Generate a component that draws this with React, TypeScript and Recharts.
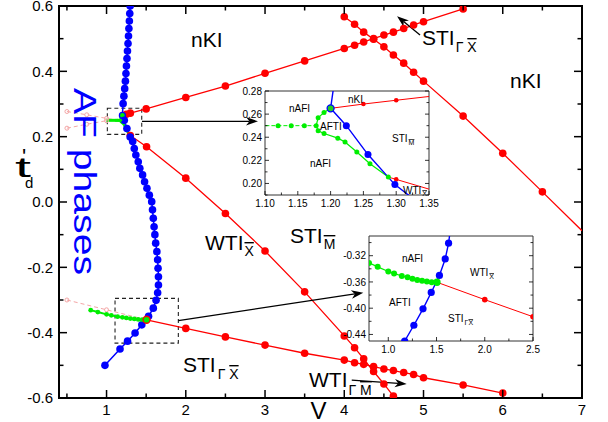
import React from 'react';
import { LineChart, Line, XAxis, YAxis, ReferenceArea, ReferenceLine } from 'recharts';

type P = { x: number; y: number; nodot?: boolean; junction?: boolean };

const FONT = '"Liberation Sans", Arial, Helvetica, sans-serif';

// ---- data (V, t'_d) ----
const blueCurve: P[] = [
  { x: 1.298, y: 0.6 }, { x: 1.293, y: 0.577 }, { x: 1.288, y: 0.554 }, { x: 1.282, y: 0.531 },
  { x: 1.277, y: 0.508 }, { x: 1.271, y: 0.485 }, { x: 1.264, y: 0.462 }, { x: 1.258, y: 0.439 },
  { x: 1.251, y: 0.416 }, { x: 1.245, y: 0.393 }, { x: 1.238, y: 0.37 }, { x: 1.229, y: 0.347 },
  { x: 1.219, y: 0.324 }, { x: 1.209, y: 0.301 },
  { x: 1.2, y: 0.265, junction: true },
  { x: 1.224, y: 0.25 }, { x: 1.257, y: 0.225 }, { x: 1.298, y: 0.199 },
  { x: 1.33, y: 0.185 }, { x: 1.35, y: 0.164 }, { x: 1.37, y: 0.144 }, { x: 1.4, y: 0.123 },
  { x: 1.42, y: 0.103 }, { x: 1.455, y: 0.083 }, { x: 1.48, y: 0.062 }, { x: 1.51, y: 0.042 },
  { x: 1.54, y: 0.021 }, { x: 1.57, y: 0.001 }, { x: 1.58, y: -0.024 }, { x: 1.59, y: -0.05 },
  { x: 1.6, y: -0.076 }, { x: 1.61, y: -0.1 }, { x: 1.62, y: -0.126 }, { x: 1.635, y: -0.152 },
  { x: 1.645, y: -0.177 }, { x: 1.65, y: -0.203 }, { x: 1.655, y: -0.229 }, { x: 1.655, y: -0.254 },
  { x: 1.645, y: -0.278 }, { x: 1.625, y: -0.301 }, { x: 1.59, y: -0.325 }, { x: 1.53, y: -0.35 },
  { x: 1.445, y: -0.376 }, { x: 1.36, y: -0.401 }, { x: 1.265, y: -0.426 }, { x: 1.17, y: -0.45 },
  { x: 0.98, y: -0.5 },
];

const redUpper: P[] = [
  { x: 1.2, y: 0.265, nodot: true }, { x: 1.25, y: 0.2687 }, { x: 1.3, y: 0.272 }, { x: 1.5, y: 0.285 },
  { x: 2.0, y: 0.32 }, { x: 2.5, y: 0.355 }, { x: 3.0, y: 0.394 }, { x: 3.5, y: 0.432 },
  { x: 4.0, y: 0.47 }, { x: 4.13, y: 0.48 }, { x: 4.245, y: 0.49 }, { x: 4.37, y: 0.5 },
  { x: 4.5, y: 0.511 }, { x: 4.62, y: 0.52 }, { x: 4.75, y: 0.531 }, { x: 4.875, y: 0.542 },
  { x: 5.0, y: 0.552 }, { x: 5.5, y: 0.591 },
];

const redCross: P[] = [
  { x: 4.0, y: 0.567 }, { x: 4.13, y: 0.544 }, { x: 4.245, y: 0.52 }, { x: 4.37, y: 0.498 },
  { x: 4.5, y: 0.475 }, { x: 4.62, y: 0.45 }, { x: 4.75, y: 0.425 }, { x: 4.875, y: 0.397 },
  { x: 5.0, y: 0.37 }, { x: 5.5, y: 0.263 }, { x: 6.0, y: 0.149 }, { x: 6.5, y: 0.031 },
  { x: 7.0, y: -0.088, nodot: true },
];

const redMiddle: P[] = [
  { x: 1.288, y: 0.2055, nodot: true }, { x: 1.3, y: 0.2035 }, { x: 1.505, y: 0.169 },
  { x: 2.0, y: 0.073 }, { x: 2.5, y: -0.035 }, { x: 3.0, y: -0.15 }, { x: 3.5, y: -0.275 },
  { x: 4.0, y: -0.41 }, { x: 4.13, y: -0.446 }, { x: 4.245, y: -0.48 }, { x: 4.37, y: -0.519 },
  { x: 4.5, y: -0.557 }, { x: 4.62, y: -0.594 },
];

const redLower: P[] = [
  { x: 1.505, y: -0.3605, junction: true }, { x: 2.0, y: -0.387 }, { x: 2.5, y: -0.413 },
  { x: 3.0, y: -0.438 }, { x: 3.5, y: -0.463 }, { x: 4.0, y: -0.484 }, { x: 4.13, y: -0.492 },
  { x: 4.245, y: -0.497 }, { x: 4.37, y: -0.504 }, { x: 4.5, y: -0.511 }, { x: 4.62, y: -0.516 },
  { x: 4.75, y: -0.522 }, { x: 4.875, y: -0.528 }, { x: 5.0, y: -0.538 }, { x: 5.5, y: -0.56 },
  { x: 6.0, y: -0.585 },
];

const greenFlat: P[] = [
  { x: 1.0, y: 0.25, nodot: true }, { x: 1.12, y: 0.25 }, { x: 1.14, y: 0.25 }, { x: 1.16, y: 0.25 },
  { x: 1.178, y: 0.25 },
];
const greenUp: P[] = [
  { x: 1.178, y: 0.25, nodot: true }, { x: 1.181, y: 0.2568 }, { x: 1.19, y: 0.2615 },
  { x: 1.2, y: 0.265, nodot: true },
];
const greenDown: P[] = [
  { x: 1.178, y: 0.25, nodot: true }, { x: 1.181, y: 0.2455 }, { x: 1.19, y: 0.2432 },
  { x: 1.211, y: 0.2392 }, { x: 1.222, y: 0.2359 }, { x: 1.24, y: 0.2272 }, { x: 1.26, y: 0.217 },
  { x: 1.288, y: 0.2055 },
];
const greenLow: P[] = [
  { x: 0.8, y: -0.331 }, { x: 0.89, y: -0.337 }, { x: 1.0, y: -0.344 }, { x: 1.06, y: -0.347 },
  { x: 1.14, y: -0.351 }, { x: 1.2, y: -0.353 }, { x: 1.25, y: -0.355 }, { x: 1.3, y: -0.357 },
  { x: 1.35, y: -0.358 }, { x: 1.4, y: -0.3595 }, { x: 1.45, y: -0.3603 }, { x: 1.505, y: -0.3605, nodot: true },
];

const pinkA: P[] = [{ x: 0.5, y: 0.277 }, { x: 0.75, y: 0.267 }, { x: 1.0, y: 0.256 }, { x: 1.1, y: 0.252, nodot: true }];
const pinkB: P[] = [{ x: 0.5, y: 0.226 }, { x: 0.75, y: 0.238 }, { x: 1.0, y: 0.249 }];
const pinkC: P[] = [{ x: 0.5, y: -0.3 }, { x: 1.0, y: -0.33 }, { x: 1.505, y: -0.3605, nodot: true }];

// ---- ticks ----
const mainXTicks = [0.5, 1, 1.5, 2, 2.5, 3, 3.5, 4, 4.5, 5, 5.5, 6, 6.5, 7];
const mainXLabels = [1, 2, 3, 4, 5, 6, 7];
const mainYTicks = [-0.6, -0.5, -0.4, -0.3, -0.2, -0.1, 0, 0.1, 0.2, 0.3, 0.4, 0.5, 0.6];
const mainYLabels = [-0.6, -0.4, -0.2, 0, 0.2, 0.4, 0.6];
const in1XTicks = [1.1, 1.125, 1.15, 1.175, 1.2, 1.225, 1.25, 1.275, 1.3, 1.325, 1.35];
const in1XLabels = [1.1, 1.15, 1.2, 1.25, 1.3, 1.35];
const in1YTicks = [0.19, 0.2, 0.21, 0.22, 0.23, 0.24, 0.25, 0.26, 0.27, 0.28];
const in1YLabels = [0.2, 0.22, 0.24, 0.26, 0.28];
const in2XTicks = [1.0, 1.25, 1.5, 1.75, 2.0, 2.25, 2.5];
const in2XLabels = [1.0, 1.5, 2.0, 2.5];
const in2YTicks = [-0.44, -0.42, -0.4, -0.38, -0.36, -0.34, -0.32, -0.3];
const in2YLabels = [-0.44, -0.4, -0.36, -0.32];

const RED = '#ff0000';
const BLUE = '#0000ff';
const GREEN = '#00ee00';
const PINK = '#f4a6a6';

const isIn = (v: number, arr: number[]) => arr.some((a) => Math.abs(a - v) < 1e-9);

function makeXTick(o: { labels: number[]; top: number; bottom: number; major: number; minor: number; fs: number; digits: number; dy: number; sw: number; mirror: boolean }) {
  return (props: any) => {
    const { x, payload, index } = props;
    const v = payload.value as number;
    const maj = isIn(v, o.labels);
    const len = maj ? o.major : o.minor;
    return (
      <g key={`xt${index}`}>
        <line x1={x} x2={x} y1={o.bottom} y2={o.bottom - len} stroke="#000" strokeWidth={o.sw} />
        {o.mirror && <line x1={x} x2={x} y1={o.top} y2={o.top + len} stroke="#000" strokeWidth={o.sw} />}
        {maj && (
          <text x={x} y={o.bottom + o.dy} textAnchor="middle" fontSize={o.fs} fontFamily={FONT} fill="#000">
            {v.toFixed(o.digits)}
          </text>
        )}
      </g>
    );
  };
}

function makeYTick(o: { labels: number[]; left: number; right: number; major: number; minor: number; fs: number; digits: number; dx: number; sw: number }) {
  return (props: any) => {
    const { y, payload, index } = props;
    const v = payload.value as number;
    const maj = isIn(v, o.labels);
    const len = maj ? o.major : o.minor;
    return (
      <g key={`yt${index}`}>
        <line x1={o.left} x2={o.left + len} y1={y} y2={y} stroke="#000" strokeWidth={o.sw} />
        <line x1={o.right} x2={o.right - len} y1={y} y2={y} stroke="#000" strokeWidth={o.sw} />
        {maj && (
          <text x={o.left - o.dx} y={y + o.fs * 0.36} textAnchor="end" fontSize={o.fs} fontFamily={FONT} fill="#000">
            {v.toFixed(o.digits)}
          </text>
        )}
      </g>
    );
  };
}

function dots(r: number, fill: string, stroke: string, sw = 1, jr = 0, jFill = '', jStroke = '') {
  return (props: any) => {
    const { cx, cy, payload, index } = props;
    if (!payload || payload.nodot || cx == null || cy == null) return <g key={`d${index}`} />;
    if (payload.junction && jFill) {
      return <circle key={`d${index}`} cx={cx} cy={cy} r={jr} fill={jFill} stroke={jStroke} strokeWidth={1.3} />;
    }
    return <circle key={`d${index}`} cx={cx} cy={cy} r={r} fill={fill} stroke={stroke} strokeWidth={sw} />;
  };
}

const arrowShape = (p: any) => {
  const { x1, y1, x2, y2 } = p;
  const a = Math.atan2(y2 - y1, x2 - x1);
  const L = 12, W = 4.2, N = 8.5;
  const c = Math.cos(a), s = Math.sin(a);
  const bx = x2 - L * c, by = y2 - L * s;
  const nx = x2 - N * c, ny = y2 - N * s;
  const pts = `${x2},${y2} ${bx - W * s},${by + W * c} ${nx},${ny} ${bx + W * s},${by - W * c}`;
  return (
    <g>
      <line x1={x1} y1={y1} x2={nx} y2={ny} stroke="#000" strokeWidth={1.3} />
      <polygon points={pts} fill="#000" />
    </g>
  );
};

function MainChart() {
  const PL = 59, PR = 582, PT = 6, PB = 398;
  return (
    <LineChart width={608} height={422} margin={{ top: 6, right: 26, left: 0, bottom: 0 }}>
      <XAxis
        type="number" dataKey="x" domain={[0.4, 7]} ticks={mainXTicks} interval={0} allowDataOverflow
        height={24} axisLine={false} tickLine={false} tickSize={0} tickMargin={0}
        tick={makeXTick({ labels: mainXLabels, top: PT, bottom: PB, major: 8, minor: 4.5, fs: 15, digits: 0, dy: 17, sw: 1.5, mirror: true })}
      />
      <YAxis
        type="number" domain={[-0.6, 0.6]} ticks={mainYTicks} interval={0} allowDataOverflow
        width={59} axisLine={false} tickLine={false} tickSize={0} tickMargin={0}
        tick={makeYTick({ labels: mainYLabels, left: PL, right: PR, major: 8, minor: 4.5, fs: 15, digits: 1, dx: 6, sw: 1.5 })}
      />
      <ReferenceArea x1={1.01} x2={1.444} y1={0.207} y2={0.287} fill="none" stroke="#222" strokeWidth={1.1} strokeDasharray="4 3" />
      <ReferenceArea x1={1.107} x2={1.906} y1={-0.432} y2={-0.295} fill="none" stroke="#222" strokeWidth={1.1} strokeDasharray="4 3" />
      <Line data={pinkA} dataKey="y" type="linear" stroke={PINK} strokeWidth={1} strokeDasharray="4 3" dot={dots(2, 'none', PINK)} isAnimationActive={false} />
      <Line data={pinkB} dataKey="y" type="linear" stroke={PINK} strokeWidth={1} strokeDasharray="4 3" dot={dots(2, 'none', PINK)} isAnimationActive={false} />
      <Line data={pinkC} dataKey="y" type="linear" stroke={PINK} strokeWidth={1} strokeDasharray="4 3" dot={dots(2, 'none', PINK)} isAnimationActive={false} />
      <Line data={redUpper} dataKey="y" type="linear" stroke={RED} strokeWidth={1.3} dot={dots(3.8, RED, RED, 0)} isAnimationActive={false} />
      <Line data={redCross} dataKey="y" type="linear" stroke={RED} strokeWidth={1.3} dot={dots(3.8, RED, RED, 0)} isAnimationActive={false} />
      <Line data={redMiddle} dataKey="y" type="linear" stroke={RED} strokeWidth={1.3} dot={dots(3.8, RED, RED, 0)} isAnimationActive={false} />
      <Line data={blueCurve} dataKey="y" type="linear" stroke={BLUE} strokeWidth={1.5} dot={dots(3.8, BLUE, BLUE, 0, 3, GREEN, BLUE)} isAnimationActive={false} />
      <Line data={greenFlat} dataKey="y" type="linear" stroke={GREEN} strokeWidth={3} dot={dots(1.5, GREEN, GREEN, 0)} isAnimationActive={false} />
      <Line data={greenUp} dataKey="y" type="linear" stroke={GREEN} strokeWidth={2.5} dot={false} isAnimationActive={false} />
      <Line data={greenDown} dataKey="y" type="linear" stroke={GREEN} strokeWidth={2.5} dot={false} isAnimationActive={false} />
      <Line data={greenLow} dataKey="y" type="linear" stroke={GREEN} strokeWidth={2} dot={dots(2.4, GREEN, GREEN, 0)} isAnimationActive={false} />
      <Line data={redLower} dataKey="y" type="linear" stroke={RED} strokeWidth={1.3} dot={dots(3.8, RED, RED, 0, 3.5, GREEN, RED)} isAnimationActive={false} />
      <ReferenceLine segment={[{ x: 1.447, y: 0.247 }, { x: 2.911, y: 0.247 }]} shape={arrowShape} ifOverflow="visible" />
      <ReferenceLine segment={[{ x: 1.906, y: -0.363 }, { x: 4.24, y: -0.2776 }]} shape={arrowShape} ifOverflow="visible" />
      <ReferenceLine segment={[{ x: 4.956, y: 0.511 }, { x: 4.666, y: 0.569 }]} shape={arrowShape} ifOverflow="visible" />
      <ReferenceLine segment={[{ x: 4.094, y: -0.545 }, { x: 4.788, y: -0.557 }]} shape={arrowShape} ifOverflow="visible" />
      <ReferenceArea x1={0.4} x2={7} y1={-0.6} y2={0.6} fill="none" stroke="#000" strokeWidth={2} ifOverflow="visible" />
    </LineChart>
  );
}

function Inset1() {
  const PL = 32, PR = 196, PT = 8, PB = 112;
  return (
    <LineChart width={212} height={132} margin={{ top: 8, right: 16, left: 0, bottom: 0 }}>
      <XAxis
        type="number" dataKey="x" domain={[1.1, 1.35]} ticks={in1XTicks} interval={0} allowDataOverflow
        height={20} axisLine={false} tickLine={false} tickSize={0} tickMargin={0}
        tick={makeXTick({ labels: in1XLabels, top: PT, bottom: PB, major: 4, minor: 2.5, fs: 10, digits: 2, dy: 12, sw: 0.8, mirror: false })}
      />
      <YAxis
        type="number" domain={[0.19, 0.28]} ticks={in1YTicks} interval={0} allowDataOverflow
        width={32} axisLine={false} tickLine={false} tickSize={0} tickMargin={0}
        tick={makeYTick({ labels: in1YLabels, left: PL, right: PR, major: 4, minor: 2.5, fs: 10, digits: 2, dx: 3, sw: 0.8 })}
      />
      <Line data={redUpper} dataKey="y" type="linear" stroke={RED} strokeWidth={1} dot={dots(2.3, RED, RED, 0)} isAnimationActive={false} />
      <Line data={redMiddle} dataKey="y" type="linear" stroke={RED} strokeWidth={1} dot={dots(2.3, RED, RED, 0)} isAnimationActive={false} />
      <Line data={greenFlat} dataKey="y" type="linear" stroke={GREEN} strokeWidth={1} strokeDasharray="4 2" dot={dots(2.5, GREEN, GREEN, 0)} isAnimationActive={false} />
      <Line data={greenUp} dataKey="y" type="linear" stroke={GREEN} strokeWidth={1.2} dot={dots(2.5, GREEN, GREEN, 0)} isAnimationActive={false} />
      <Line data={greenDown} dataKey="y" type="linear" stroke={GREEN} strokeWidth={1.2} dot={dots(2.5, GREEN, GREEN, 0)} isAnimationActive={false} />
      <Line data={blueCurve} dataKey="y" type="linear" stroke={BLUE} strokeWidth={1.4} dot={dots(3.5, BLUE, BLUE, 0, 3.5, '#22cc22', BLUE)} isAnimationActive={false} />
      <ReferenceArea x1={1.1} x2={1.35} y1={0.19} y2={0.28} fill="none" stroke="#333" strokeWidth={1} ifOverflow="visible" />
    </LineChart>
  );
}

function Inset2() {
  const PL = 32, PR = 196, PT = 8, PB = 113;
  return (
    <LineChart width={212} height={133} margin={{ top: 8, right: 16, left: 0, bottom: 0 }}>
      <XAxis
        type="number" dataKey="x" domain={[0.8, 2.5]} ticks={in2XTicks} interval={0} allowDataOverflow
        height={20} axisLine={false} tickLine={false} tickSize={0} tickMargin={0}
        tick={makeXTick({ labels: in2XLabels, top: PT, bottom: PB, major: 4, minor: 2.5, fs: 10, digits: 1, dy: 12, sw: 0.8, mirror: false })}
      />
      <YAxis
        type="number" domain={[-0.45, -0.29]} ticks={in2YTicks} interval={0} allowDataOverflow
        width={32} axisLine={false} tickLine={false} tickSize={0} tickMargin={0}
        tick={makeYTick({ labels: in2YLabels, left: PL, right: PR, major: 4, minor: 2.5, fs: 10, digits: 2, dx: 3, sw: 0.8 })}
      />
      <Line data={blueCurve} dataKey="y" type="linear" stroke={BLUE} strokeWidth={1.4} dot={dots(3.6, BLUE, BLUE, 0)} isAnimationActive={false} />
      <Line data={greenLow} dataKey="y" type="linear" stroke={GREEN} strokeWidth={1.2} dot={dots(3, GREEN, GREEN, 0)} isAnimationActive={false} />
      <Line data={redLower} dataKey="y" type="linear" stroke={RED} strokeWidth={1} dot={dots(2.8, RED, RED, 0, 3, GREEN, GREEN)} isAnimationActive={false} />
      <ReferenceArea x1={0.8} x2={2.5} y1={-0.45} y2={-0.29} fill="none" stroke="#333" strokeWidth={1} ifOverflow="visible" />
    </LineChart>
  );
}

function Lab(props: { x: number; y: number; main: string; sub: React.ReactNode; fs: number; sfs: number; dx?: number; dy: number }) {
  return (
    <text x={props.x} y={props.y} fontSize={props.fs} fontFamily={FONT} fill="#000">
      {props.main}
      <tspan dx={props.dx ?? 1} dy={props.dy} fontSize={props.sfs}>{props.sub}</tspan>
    </text>
  );
}

const OL = (s: string) => <tspan textDecoration="overline">{s}</tspan>;

export default function App() {
  return (
    <div style={{ position: 'absolute', left: 0, top: 0, width: 608, height: 422, background: '#fff', fontFamily: FONT }}>
      <div style={{ position: 'absolute', left: 0, top: 0 }}><MainChart /></div>
      <div style={{ position: 'absolute', left: 233, top: 83 }}><Inset1 /></div>
      <div style={{ position: 'absolute', left: 337, top: 228 }}><Inset2 /></div>
      <svg style={{ position: 'absolute', left: 0, top: 0, pointerEvents: 'none' }} width={608} height={422}>
        {/* main region labels */}
        <text x={191} y={47} fontSize={21} fontFamily={FONT}>nKI</text>
        <text x={510} y={88} fontSize={21} fontFamily={FONT}>nKI</text>
        <Lab x={422} y={45} main="STI" fs={21} sfs={14} dy={7} sub={<>{'Γ '}{OL('X')}</>} />
        <Lab x={205} y={250} main="WTI" fs={21} sfs={14} dy={6} sub={OL('X')} />
        <Lab x={290} y={243} main="STI" fs={21} sfs={14} dy={6} sub={OL('M')} />
        <Lab x={183} y={372} main="STI" fs={21} sfs={14} dy={7} dx={2} sub={<>{'Γ '}{OL('X')}</>} />
        <Lab x={309} y={387} main="WTI" fs={21} sfs={14} dy={8} sub={<>{'Γ '}{OL('M')}</>} />
        {/* axis titles */}
        <text x={318.5} y={419} fontSize={24} fontFamily={FONT} textAnchor="middle">V</text>
        <text x={15} y={177} fontSize={28} fontFamily={FONT} textLength={16} lengthAdjust="spacingAndGlyphs">t</text>
        <text x={22} y={164} fontSize={22} fontFamily={FONT}>'</text>
        <text x={25} y={188} fontSize={15} fontFamily={FONT}>d</text>
        <text x={74} y={88} transform="rotate(90 74 88)" fontSize={32} fontFamily={FONT} fill={BLUE} textLength={187} lengthAdjust="spacingAndGlyphs">AF phases</text>
        {/* inset 1 labels */}
        <text x={289} y={112} fontSize={10} fontFamily={FONT}>nAFI</text>
        <text x={320} y={130} fontSize={10} fontFamily={FONT}>AFTI</text>
        <text x={310} y={167} fontSize={10} fontFamily={FONT}>nAFI</text>
        <text x={348} y={103} fontSize={10} fontFamily={FONT}>nKI</text>
        <Lab x={392} y={142} main="STI" fs={10} sfs={7} dy={3} sub={OL('M')} />
        <Lab x={403} y={194} main="WTI" fs={10} sfs={7} dy={2} sub={OL('X')} />
        {/* inset 2 labels */}
        <text x={402} y={262} fontSize={10} fontFamily={FONT}>nAFI</text>
        <text x={389} y={306} fontSize={10} fontFamily={FONT}>AFTI</text>
        <Lab x={470} y={276} main="WTI" fs={10} sfs={7} dy={3} sub={OL('X')} />
        <Lab x={448} y={322} main="STI" fs={10} sfs={7} dy={3} sub={<>{'Γ'}{OL('X')}</>} />
      </svg>
    </div>
  );
}
